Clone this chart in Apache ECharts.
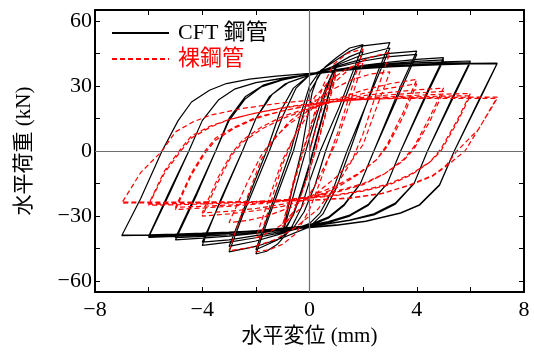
<!DOCTYPE html>
<html>
<head>
<meta charset="utf-8">
<script src="https://cdn.jsdelivr.net/npm/echarts@6/dist/echarts.min.js"></script>
<style>
  html, body { margin: 0; padding: 0; background: #fff; }
  #chart { width: 534px; height: 356px; }
</style>
</head>
<body>
<div id="chart"></div>
<script>
// axis ticks / labels
const xTicks = [-8, -6, -4, -2, 0, 2, 4, 6, 8];
const xLabels = [-8, -4, 0, 4, 8];
const yTicks = [-60, -45, -30, -15, 0, 15, 30, 45, 60];
const yLabels = [-60, -30, 0, 30, 60];

const seriesNames = ["CFT 鋼管", "裸鋼管"];

// CFT steel tube, [displacement mm, load kN], two cycles per amplitude
const cftA1 = [[0,0],[0.3,14],[0.6,27],[0.8,34],[1,39.5],
  [0.7,26],[0.3,8],[0,-6],[-0.3,-18],[-0.6,-29],[-0.8,-34],[-1,-38],
  [-0.7,-25],[-0.3,-7],[0,6],[0.3,18],[0.6,29],[0.8,34.5],[1,39],
  [0.7,25],[0.3,7],[0,-7],[-0.3,-19],[-0.6,-29.5],[-1,-37.5]];
const cftA2 = [[-0.6,-15],[-0.3,0],[-0.1,14],[0.1,27],[0.3,34],[0.6,39],[1,43],[1.5,47.5],[2,49],
  [1.6,36],[1.1,20],[0.4,0],[0,-14],[-0.3,-26],[-0.7,-36],[-1.2,-43],[-1.6,-46.2],[-2,-47.5],
  [-1.5,-30],[-0.6,0],[-0.3,14],[0,27],[0.4,35.5],[1,40],[1.5,43.5],[2,46],
  [1.5,30],[0.6,0],[0.2,-16],[-0.2,-28],[-0.6,-35.5],[-1.2,-41],[-2,-45.5]];
const cftA3 = [[-1.5,-28],[-0.7,0],[-0.3,18],[0,30],[0.4,37],[1,42],[1.5,46],[2,48.5],[3,50],
  [2.5,35],[1.5,0],[1,-17],[0.5,-29],[0,-35],[-1,-40],[-2,-44],[-3,-46.5],
  [-2.5,-30],[-1.5,0],[-1,16],[-0.5,29],[0,35],[1,39.5],[2,44.5],[3,47.5],
  [2.5,33],[1.4,0],[0.9,-17],[0.4,-28.5],[0,-33.5],[-1,-38],[-2,-41.5],[-3,-44]];
const cftA4 = [[-2.3,-22],[-1.6,0],[-1.1,18],[-0.6,29],[0,35],[1,39],[2,42.5],[3,45],[4,46],
  [3.4,30],[2.4,0],[1.9,-15],[1.3,-25],[0.7,-31],[0,-34.5],[-1,-37.5],[-2,-40],[-3,-42],[-4,-43.5],
  [-3.3,-22],[-2.5,0],[-2,15],[-1.5,25],[-0.9,31],[0,35],[1,38.5],[2,41.5],[3,43.5],[4,44.5],
  [3.4,28],[2.4,0],[1.9,-15],[1.3,-24.5],[0.7,-30.5],[0,-34],[-1,-37],[-2,-39],[-3,-41],[-4,-42]];
const cftA5 = [[-3.2,-20],[-2.5,0],[-2,15],[-1.4,26],[-0.8,31.5],[0,35],[1,37.5],[2,39.5],[3,41],[4,42.2],[5,43],
  [4.3,25],[3.4,0],[2.9,-15],[2.2,-25],[1.5,-30],[0.7,-33],[0,-34.5],[-1,-36.5],[-2,-38],[-3,-39.2],[-4,-40.2],[-5,-41],
  [-4.2,-20],[-3.5,0],[-3,15],[-2.4,25],[-1.7,30.5],[-1,33],[0,35.3],[1,37.3],[2,39],[3,40.3],[4,41.3],[5,42],
  [4.3,24],[3.4,0],[2.9,-15],[2.2,-24.5],[1.5,-29.5],[0.7,-32.5],[0,-34.2],[-1,-36],[-2,-37.5],[-3,-38.6],[-4,-39.4],[-5,-40]];
const cftA6 = [[-4.2,-19],[-3.5,0],[-3,14],[-2.4,24],[-1.8,29.5],[-1,32.8],[0,35.3],[1,37.2],[2,38.7],[3,39.8],[4,40.6],[5,41.1],[6,41.5],
  [5.3,24],[4.4,0],[3.9,-15],[3.2,-24.5],[2.4,-29.5],[1.5,-32],[0.5,-34],[-1,-35.8],[-2,-37],[-3,-38],[-4,-38.8],[-5,-39.4],[-6,-39.8],
  [-5.2,-19],[-4.5,0],[-4,14],[-3.4,23.5],[-2.8,28.5],[-2,31.5],[-1,33.5],[0,35.2],[1,36.8],[2,38.2],[3,39.2],[4,40],[5,40.5],[6,40.8],
  [5.3,23],[4.4,0],[3.9,-15],[3.2,-24],[2.4,-29],[1.5,-31.8],[0.5,-33.8],[-1,-35.5],[-2,-36.7],[-3,-37.6],[-4,-38.3],[-5,-38.9],[-6,-39.3]];
const cftA7 = [[-5.2,-18],[-4.5,0],[-4,14],[-3.4,23.5],[-2.8,28.5],[-2,31.5],[-1,33.6],[0,35.3],[1,36.8],[2,38],[3,38.9],[4,39.6],[5,40.1],[6,40.4],[7,40.5],
  [6.3,23],[5.4,0],[4.85,-15.8],[4.1,-25],[3.4,-28.7],[2.1,-32.5],[1,-34.3],[0,-35.3],[-1,-36.3],[-2,-37],[-3,-37.6],[-4,-38.1],[-5,-38.5],[-6,-38.8],[-7,-39],
  [-6.3,-22],[-5.5,0],[-4.9,14],[-4.4,22.6],[-3.73,28],[-3.1,31.1],[-2.24,33.1],[-1.24,34.5],[0,35.8],[1,37],[2,38],[3,38.8],[4,39.4],[5,39.8],[6,40.1],[7,40.3],
  [6.3,22.5],[5.4,0],[4.85,-15.5],[4.1,-24.8],[3.4,-28.5],[2.1,-32.3],[1,-34.1],[0,-35.1],[-1,-36],[-2,-36.8],[-3,-37.4],[-4,-37.9],[-5,-38.3],[-6,-38.6],[-7,-38.8]];

// bare steel tube
const bareA1 = [[0,0],[0.3,13],[0.6,25],[0.8,32],[1,37],
  [0.7,22],[0.3,4],[0,-9],[-0.3,-20],[-0.6,-28],[-0.8,-32],[-1,-35],
  [-0.7,-20],[-0.3,-3],[0,9],[0.3,20],[0.6,28],[0.8,32],[1,35.5],
  [0.7,21],[0.3,3],[0,-9],[-0.3,-20],[-0.6,-28],[-1,-34]];
const bareA2 = [[-0.6,-14],[-0.2,2],[0.2,18],[0.5,30],[0.9,40],[1.4,45],[2,47],
  [1.6,30],[1.1,10],[0.8,0],[0.4,-14],[0,-27],[-0.5,-38],[-1,-43],[-1.5,-45.5],[-2,-46.5],
  [-1.5,-26],[-1,-6],[-0.7,3],[-0.3,14],[0.2,25],[0.8,33],[1.4,38],[2,41],
  [1.5,22],[1,4],[0.6,-6],[0.2,-16],[-0.3,-26],[-0.9,-33],[-1.5,-37.5],[-2,-40]];
const bareA3 = [[-1.4,-18],[-1,-4],[-0.6,6],[0,18],[0.7,29],[1.5,38],[2.2,43],[3,45.5],
  [2.5,27],[2,8],[1.6,-4],[1,-16],[0.3,-27],[-0.5,-35],[-1.3,-41],[-2.2,-44.5],[-3,-46],
  [-2.4,-24],[-1.8,-4],[-1.4,4],[-0.8,13],[0,21],[0.8,28],[1.6,33],[2.3,35.5],[3,36.5],
  [2.5,20],[2,3],[1.6,-4],[1,-12],[0.2,-20],[-0.7,-26],[-1.6,-30],[-2.3,-32],[-3,-33]];
const bareA4 = [[-2.3,-14],[-1.8,-2],[-1.4,5],[-0.8,12],[0,19],[1,24],[2,28],[3,31],[4,33],
  [3.5,18],[2.9,3],[2.5,-4],[1.8,-11],[1,-17],[0,-22],[-1,-25.5],[-2,-27.5],[-3,-29],[-4,-30],
  [-3.4,-14],[-2.9,-2],[-2.5,4],[-1.8,10],[-1,15],[0,19.5],[1,23.5],[2,26.5],[3,29],[4,31],
  [3.5,16],[2.9,2],[2.5,-4],[1.8,-10.5],[1,-16],[0,-21],[-1,-24.5],[-2,-26.5],[-3,-27.8],[-4,-28.5]];
const bareA5 = [[-3.4,-12],[-2.9,-1],[-2.5,5],[-1.8,11],[-1,16],[0,20],[1,23],[2,25.5],[3,27],[4,28.2],[5,29],
  [4.5,16],[3.9,2],[3.5,-4],[2.8,-10.5],[2,-15.5],[1,-19],[0,-21.5],[-1,-23.2],[-2,-24.5],[-3,-25.5],[-4,-26.3],[-5,-27],
  [-4.4,-11],[-3.9,-1],[-3.5,5],[-2.8,10.5],[-2,15],[-1,18.5],[0,21],[1,23],[2,24.7],[3,25.9],[4,26.8],[5,27.5],
  [4.5,14],[3.9,1],[3.5,-4.5],[2.8,-10.5],[2,-15],[1,-18.5],[0,-21],[-1,-22.7],[-2,-24],[-3,-24.9],[-4,-25.5],[-5,-26]];
const bareA6 = [[-4.4,-10],[-3.9,0],[-3.5,6],[-2.8,11],[-2,15.5],[-1,18.5],[0,21],[1,22.8],[2,24.1],[3,25],[4,25.7],[5,26.2],[6,26.5],
  [5.5,14],[4.9,1],[4.5,-5],[3.8,-11],[3,-15.5],[2,-18.5],[1,-20.5],[0,-21.8],[-1,-22.8],[-2,-23.5],[-3,-24],[-4,-24.4],[-5,-24.8],[-6,-25],
  [-5.4,-10],[-4.8,0],[-4.4,6],[-3.7,11],[-3,14.5],[-2,17.5],[-1,19.8],[0,21.5],[1,22.8],[2,23.8],[3,24.5],[4,25],[5,25.3],[6,25.5],
  [5.5,13],[4.9,0],[4.5,-5],[3.8,-10.5],[3,-15],[2,-18.2],[1,-20.2],[0,-21.5],[-1,-22.5],[-2,-23.2],[-3,-23.7],[-4,-24],[-5,-24.3],[-6,-24.5]];
const bareA7 = [[-5.4,-9],[-4.8,1],[-4.4,7],[-3.7,11.5],[-3,14.5],[-2,17.5],[-1,20],[0,21.8],[1,22.9],[2,23.7],[3,24.2],[4,24.5],[5,24.7],[6,24.8],[7,24.8],
  [6.4,12],[5.8,0],[5.1,-7],[4.6,-11.5],[3.7,-16],[2.7,-19.5],[1.5,-21.6],[0,-22.7],[-1,-23],[-2,-23.3],[-3,-23.5],[-4,-23.7],[-5,-23.8],[-6,-23.9],[-7,-24],
  [-6.3,-10],[-5.5,0],[-5,8.8],[-4.35,13.4],[-3.7,16.5],[-2.5,19.6],[-1.2,21.9],[0,23.4],[1,23.8],[2,24],[3,24.1],[4,24.3],[5,24.3],[6,24.3],[7,24.2],
  [6.3,10],[5.5,0],[5.1,-6.6],[4.6,-11.2],[3.7,-15.8],[2.7,-19.7],[1.5,-21.8],[0,-22.8],[-1,-23.1],[-2,-23.3],[-3,-23.4],[-4,-23.5],[-5,-23.5],[-6,-23.5],[-7,-23.5]];

const cftPath = [].concat(cftA1, cftA2, cftA3, cftA4, cftA5, cftA6, cftA7);
const barePath = [].concat(bareA1, bareA2, bareA3, bareA4, bareA5, bareA6, bareA7);

const FONT = '"Liberation Serif", "Noto Sans CJK JP", serif';
const minus = (v) => String(v).replace("-", "\u2212");

const chart = echarts.init(document.getElementById("chart"), null, { renderer: "canvas" });

const xAxisBase = {
  type: "value",
  min: -8,
  max: 8,
  axisLine: { onZero: false, lineStyle: { color: "#000", width: 2 } },
  axisTick: { inside: true, length: 5, customValues: xTicks, lineStyle: { color: "#000", width: 1 } },
  splitLine: { show: false },
};
const yAxisBase = {
  type: "value",
  min: -65,
  max: 65,
  axisLine: { onZero: false, lineStyle: { color: "#000", width: 2 } },
  axisTick: { inside: true, length: 5, customValues: yTicks, lineStyle: { color: "#000", width: 1 } },
  splitLine: { show: false },
};

chart.setOption({
  animation: false,
  backgroundColor: "#fff",
  textStyle: { fontFamily: FONT },
  grid: { left: 95, right: 10, top: 10, bottom: 64 },
  legend: {
    orient: "vertical",
    left: 111,
    top: 22,
    padding: 0,
    itemWidth: 57,
    itemHeight: 14,
    itemGap: 4,
    itemStyle: { opacity: 0 },
    textStyle: { fontFamily: FONT, fontSize: 22, lineHeight: 22, padding: [0, 0, 0, 4] },
    data: [
      { name: seriesNames[0], textStyle: { color: "#000" } },
      { name: seriesNames[1], textStyle: { color: "#ff0000" } },
    ],
  },
  xAxis: [
    Object.assign({}, xAxisBase, {
      position: "bottom",
      name: "水平変位 (mm)",
      nameLocation: "middle",
      nameGap: 31,
      nameTextStyle: { fontFamily: FONT, fontSize: 21, color: "#000" },
      axisLabel: { customValues: xLabels, margin: 7, color: "#000", fontSize: 22, fontFamily: FONT, formatter: minus },
    }),
    Object.assign({}, xAxisBase, { position: "top", axisLabel: { show: false } }),
  ],
  yAxis: [
    Object.assign({}, yAxisBase, {
      position: "left",
      name: "水平荷重 (kN)",
      nameLocation: "middle",
      nameGap: 60,
      nameTextStyle: { fontFamily: FONT, fontSize: 21, color: "#000" },
      axisLabel: { customValues: yLabels, margin: 3, color: "#000", fontSize: 22, fontFamily: FONT, formatter: minus },
    }),
    Object.assign({}, yAxisBase, { position: "right", axisLabel: { show: false } }),
  ],
  series: [
    {
      name: "zero",
      type: "line",
      data: [],
      z: 1,
      markLine: {
        silent: true,
        symbol: "none",
        label: { show: false },
        lineStyle: { color: "#6e6e6e", width: 1.2, type: "solid" },
        data: [{ xAxis: 0 }, { yAxis: 0 }],
      },
    },
    {
      name: seriesNames[0],
      type: "line",
      data: cftPath,
      showSymbol: false,
      symbol: "none",
      z: 3,
      lineStyle: { color: "#000", width: 1.2 },
      itemStyle: { color: "#000" },
    },
    {
      name: seriesNames[1],
      type: "line",
      data: barePath,
      showSymbol: false,
      symbol: "none",
      z: 4,
      lineStyle: { color: "#ff0000", width: 1.2, type: [5, 3] },
      itemStyle: { color: "#ff0000" },
    },
  ],
});
</script>
</body>
</html>
